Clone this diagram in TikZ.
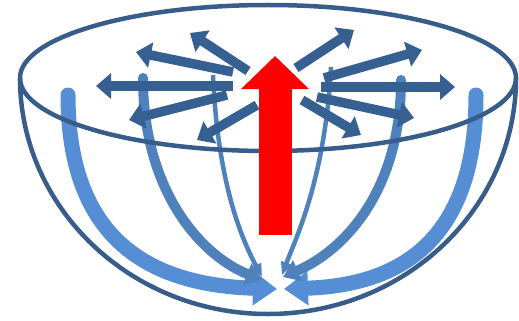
\documentclass[tikz,border=0pt]{standalone}
\usepackage{tikz}
\usetikzlibrary{arrows.meta}
\definecolor{rimblue}{RGB}{56,93,138}
\definecolor{spokeblue}{RGB}{55,96,146}
\definecolor{flowblue}{RGB}{79,129,189}
\definecolor{lightflow}{RGB}{85,142,213}

\begin{document}
\begin{tikzpicture}[x=1pt, y=-1pt,
  rim/.style={rimblue, line width=4.5pt},
  spoke/.style={spokeblue, line width=9.5pt, -{Triangle[width=25pt,length=15pt]}},
  outerflow/.style={lightflow, line width=15pt, line cap=round, -{Triangle[width=33pt,length=24pt]}},
  innerflow/.style={flowblue, line width=10pt, line cap=round, -{Triangle[width=22pt,length=16pt]}},
  fineflow/.style={flowblue, line width=4.5pt, -{Triangle[width=11pt,length=13pt]}},
  lift/.style={red, line width=33pt, -{Triangle[width=66pt,length=33pt]}}]
  \useasboundingbox (0,0) rectangle (519,321);

  % flow down the walls to the bottom
  \coordinate (ol-s) at (68,95);   \coordinate (ol-e) at (277,289);
  \coordinate (or-s) at (476,95);  \coordinate (or-e) at (284,289);
  \draw[outerflow] (ol-s) .. controls (68,240) and (150,285) .. (ol-e);
  \draw[outerflow] (or-s) .. controls (476,240) and (401,285) .. (or-e);

  \coordinate (il-s) at (143,78);  \coordinate (il-e) at (262,280);
  \coordinate (ir-s) at (401,80);  \coordinate (ir-e) at (283,277);
  \draw[innerflow] (il-s) .. controls (143,190) and (200,255) .. (il-e);
  \draw[innerflow] (ir-s) .. controls (401,190) and (345,250) .. (ir-e);

  \coordinate (fl-s) at (213,75);  \coordinate (fl-e) at (262,277);
  \coordinate (fr-s) at (331,67);  \coordinate (fr-e) at (282,275);
  \draw[fineflow] (fl-s) .. controls (218,190) and (245,245) .. (fl-e);
  \draw[fineflow] (fr-s) .. controls (325,180) and (295,240) .. (fr-e);

  % bowl
  \coordinate (rim) at (268,78);
  \draw[rim] (rim) ellipse [x radius=248, y radius=73];
  \draw[rim] (20,78) arc[start angle=180, end angle=0, x radius=248, y radius=236];

  % outward spokes on the surface
  \foreach \n/\a/\b in {l1/{248,71}/{190,33}, l2/{233,72}/{136,52},
      l3/{233,86}/{96,86}, l4/{227,95}/{129,120}, l5/{257,105}/{197,140},
      r1/{296,68}/{354,30}, r2/{324,78}/{422,50}, r3/{321,87}/{455,87},
      r4/{317,97}/{414,118}, r5/{302,100}/{361,135}} {
    \coordinate (\n-s) at (\a);
    \coordinate (\n-e) at (\b);
    \draw[spoke] (\n-s) -- (\n-e);
  }

  % rising column
  \coordinate (up-s) at (275,235);
  \coordinate (up-e) at (275,56);
  \draw[lift] (up-s) -- (up-e);
\end{tikzpicture}
\end{document}
